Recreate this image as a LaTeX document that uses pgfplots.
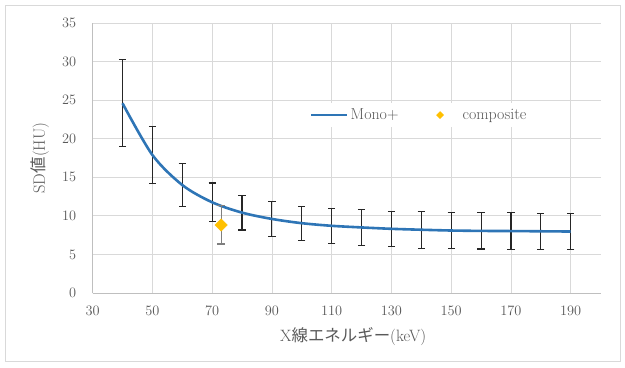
\documentclass[border=0pt]{standalone}
\usepackage{fontspec}
\newfontfamily\cjk{Noto Sans CJK JP}
\usepackage{pgfplots}
\usepackage{pgfplotstable}
\pgfplotsset{compat=1.18}
\definecolor{monoblue}{HTML}{2E75B6}
\definecolor{compgold}{HTML}{FFC000}
\definecolor{gridgray}{HTML}{D9D9D9}
\definecolor{axisgray}{HTML}{BFBFBF}
\definecolor{errdark}{HTML}{262626}
\definecolor{errgray}{HTML}{7F7F7F}
\definecolor{txtgray}{HTML}{595959}
\pgfplotsset{
  monoleg/.style={legend image code/.code={\draw[##1] (0bp,0bp) -- (36bp,0bp);}},
  compleg/.style={legend image code/.code={\draw[##1, mark size=2.5bp] plot coordinates {(3bp,0bp)};}},
}
\pgfplotstableread{
x y e
40 24.6 5.65
50 17.9 3.72
60 14.0 2.82
70 11.76 2.5
80 10.42 2.25
90 9.6 2.25
100 9.05 2.2
110 8.71 2.25
120 8.5 2.3
130 8.32 2.3
140 8.2 2.4
150 8.1 2.3
160 8.05 2.35
170 8.03 2.35
180 8.0 2.35
190 7.97 2.35
}\mono
\pgfplotstableread{
x y e
73 8.82 2.47
}\comp
\begin{document}
\begin{tikzpicture}[x=1bp,y=1bp]
\path[fill=white] (0,0) rectangle (625,367);
\draw[gridgray, line width=0.8bp] (5.5,5.5) rectangle (620,362);
\begin{axis}[
  at={(92.6bp,74bp)}, anchor=south west,
  scale only axis, width=508bp, height=270bp,
  xmin=30, xmax=200, ymin=0, ymax=35,
  xtick={30,50,...,190}, ytick={0,5,...,35},
  grid=major, major grid style={gridgray, line width=0.8bp},
  axis x line*=bottom, axis y line*=left,
  axis line style={axisgray, line width=0.8bp, -},
  major tick length=0pt,
  tick label style={font=\fontsize{15.5}{17}\selectfont, text=txtgray},
  xticklabel style={yshift=-10bp},
  yticklabel style={xshift=-13bp},
  xlabel={X{\cjk 線エネルギー}(keV)},
  ylabel={SD{\cjk 値}(HU)},
  label style={font=\fontsize{16.5}{18}\selectfont, text=txtgray},
  xlabel style={at={(axis description cs:0.513,-0.163)}, anchor=center},
  ylabel style={at={(axis description cs:-0.1035,0.5)}, anchor=center},
  legend style={at={(0.643,0.659)}, anchor=center, draw=none, fill=white,
    font=\fontsize{16}{17}\selectfont, text=txtgray,
    legend columns=2, /tikz/every even column/.append style={column sep=36bp},
    inner xsep=6bp, inner ysep=4bp},
  legend cell align=left,
]
\addplot[draw=none, forget plot,
  error bars/.cd, y dir=both, y explicit,
  error bar style={draw=errdark, line width=1.1bp},
  error mark options={draw=errdark, rotate=90, mark size=3.6bp, line width=1.1bp}]
  table[x=x, y=y, y error=e]{\mono};
\addplot[monoblue, line width=2.6bp, smooth, mark=none, monoleg]
  table[x=x, y=y]{\mono};
\addlegendentry{Mono+}
\addplot[draw=none, forget plot,
  error bars/.cd, y dir=both, y explicit,
  error bar style={draw=errgray, line width=1.1bp},
  error mark options={draw=errgray, rotate=90, mark size=3.6bp, line width=1.1bp}]
  table[x=x, y=y, y error=e]{\comp};
\addplot[only marks, mark=square*, mark size=4.4bp, color=compgold,
  mark options={rotate=45, draw=compgold, fill=compgold}, compleg]
  table[x=x, y=y]{\comp};
\addlegendentry{\hspace{17bp}composite}
\end{axis}
\end{tikzpicture}
\end{document}
